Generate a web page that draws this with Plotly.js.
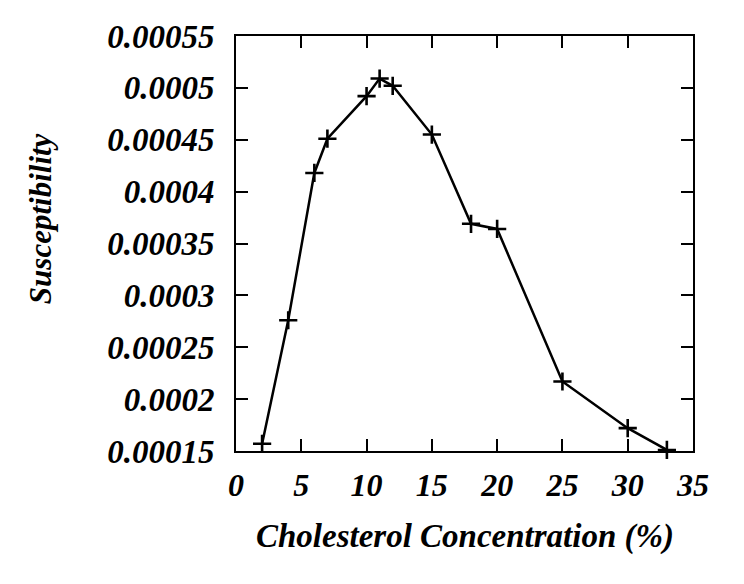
<!DOCTYPE html>
<html>
<head>
<meta charset="utf-8">
<script src="https://cdn.plot.ly/plotly-3.0.1.min.js"></script>
<style>html,body{margin:0;padding:0;background:#fff;}#chart{width:744px;height:584px;}</style>
</head>
<body>
<div id="chart"></div>
<script>
const cholesterol = [2, 4, 6, 7, 10, 11, 12, 15, 18, 20, 25, 30, 33];
const susceptibility = [0.000157, 0.000276, 0.000418, 0.000451, 0.000492, 0.000509, 0.000502, 0.000455, 0.000369, 0.000364, 0.000217, 0.000172, 0.000151];
const yTickVals = [0.00015, 0.0002, 0.00025, 0.0003, 0.00035, 0.0004, 0.00045, 0.0005, 0.00055];
const yTickText = ["0.00015", "0.0002", "0.00025", "0.0003", "0.00035", "0.0004", "0.00045", "0.0005", "0.00055"];
const xTickVals = [0, 5, 10, 15, 20, 25, 30, 35];
const xTitle = "Cholesterol Concentration (%)";
const yTitle = "Susceptibility";

const font = {family: "Liberation Serif, Times New Roman, serif", color: "#000"};
const bi = {weight: "bold", style: "italic"};

const trace = {
  x: cholesterol, y: susceptibility, type: "scatter", mode: "lines+markers",
  line: {color: "#000", width: 2.5},
  marker: {symbol: "cross-thin", size: 13, line: {color: "#000", width: 2.6}, color: "#000"},
  cliponaxis: false
};

const axisCommon = {
  showgrid: false, zeroline: false, showline: true, linecolor: "#000", linewidth: 2,
  mirror: "ticks", ticks: "inside", ticklen: 12, tickwidth: 2, tickcolor: "#000"
};

const layout = {
  width: 744, height: 584,
  margin: {l: 236, r: 51, t: 36, b: 133},
  paper_bgcolor: "#fff", plot_bgcolor: "#fff",
  showlegend: false,
  xaxis: Object.assign({}, axisCommon, {range: [0, 35], tickvals: xTickVals, ticklabelstandoff: 5,
    tickfont: Object.assign({}, font, bi, {size: 32})}),
  yaxis: Object.assign({}, axisCommon, {range: [0.00015, 0.00055], tickvals: yTickVals, ticktext: yTickText, ticklabelstandoff: 13,
    tickfont: Object.assign({}, font, bi, {size: 33})}),
  annotations: [
    {text: xTitle, xref: "paper", yref: "paper", x: 0.5, y: -0.205, xanchor: "center", yanchor: "middle", showarrow: false,
     font: Object.assign({}, font, bi, {size: 33})},
    {text: yTitle, xref: "paper", yref: "paper", x: -0.429, y: 0.561, xanchor: "center", yanchor: "middle", textangle: -90, showarrow: false,
     font: Object.assign({}, font, bi, {size: 31})}
  ]
};

Plotly.newPlot("chart", [trace], layout, {displayModeBar: false, staticPlot: true});
</script>
</body>
</html>
